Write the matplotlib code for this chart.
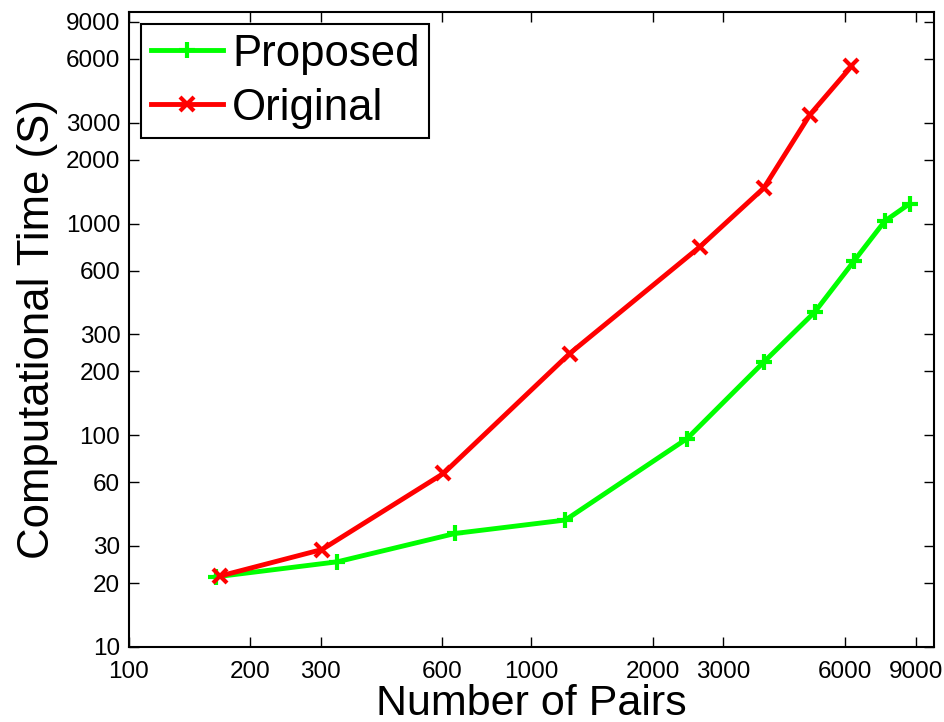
import matplotlib
matplotlib.use("Agg")
import matplotlib.pyplot as plt
from matplotlib.ticker import FixedLocator, FixedFormatter, NullLocator

plt.rcParams['font.family'] = ['Liberation Sans', 'DejaVu Sans']

# Data (log-log)
proposed_pairs = [165, 330, 647, 1215, 2438, 3773, 5058, 6324, 7550, 8710]
proposed_time = [21.4, 25.2, 34.3, 39.7, 96.4, 221, 382, 664, 1028, 1243]

original_pairs = [169, 302, 605, 1245, 2618, 3779, 4920, 6237]
original_time = [21.6, 28.8, 65.9, 243, 775, 1473, 3273, 5535]

x_ticks = [100, 200, 300, 600, 1000, 2000, 3000, 6000, 9000]
y_ticks = [10, 20, 30, 60, 100, 200, 300, 600, 1000, 2000, 3000, 6000, 9000]

fig = plt.figure(figsize=(9.45, 7.22), dpi=100)
ax = fig.add_axes([128.7/945, 1-646.7/722, (934-128.7)/945, (646.7-12)/722])

ax.plot(proposed_pairs, proposed_time, color=(0, 1, 0), lw=3.5,
        marker='+', markersize=12, markeredgewidth=3.0, label='Proposed')
ax.plot(original_pairs, original_time, color=(1, 0, 0), lw=3.5,
        marker='x', markersize=9.5, markeredgewidth=3.0, label='Original')

ax.set_xscale('log')
ax.set_yscale('log')
ax.set_xlim(100, 10000)
ax.set_ylim(10, 10000)

ax.xaxis.set_major_locator(FixedLocator(x_ticks))
ax.xaxis.set_major_formatter(FixedFormatter([str(v) for v in x_ticks]))
ax.xaxis.set_minor_locator(NullLocator())
ax.yaxis.set_major_locator(FixedLocator(y_ticks))
ax.yaxis.set_major_formatter(FixedFormatter([str(v) for v in y_ticks]))
ax.yaxis.set_minor_locator(NullLocator())

ax.tick_params(axis='both', which='major', direction='in', length=7, width=1,
               top=True, right=True, labelsize=17.5, pad=6, colors='black')
ax.tick_params(axis='x', pad=10)
for s in ax.spines.values():
    s.set_linewidth(1.5)

ax.set_xlabel('Number of Pairs', fontsize=31, labelpad=1)
ax.set_ylabel('Computational Time (S)', fontsize=31.5, labelpad=6)

leg = ax.legend(loc='upper left', bbox_to_anchor=(0.0153, 0.981),
                borderaxespad=0, fontsize=31.5, handlelength=1.66,
                handletextpad=0.2, borderpad=0.22, labelspacing=0.3,
                fancybox=False, framealpha=1, edgecolor='black')
leg.get_frame().set_linewidth(1.5)

fig.savefig('out.png', dpi=100)
